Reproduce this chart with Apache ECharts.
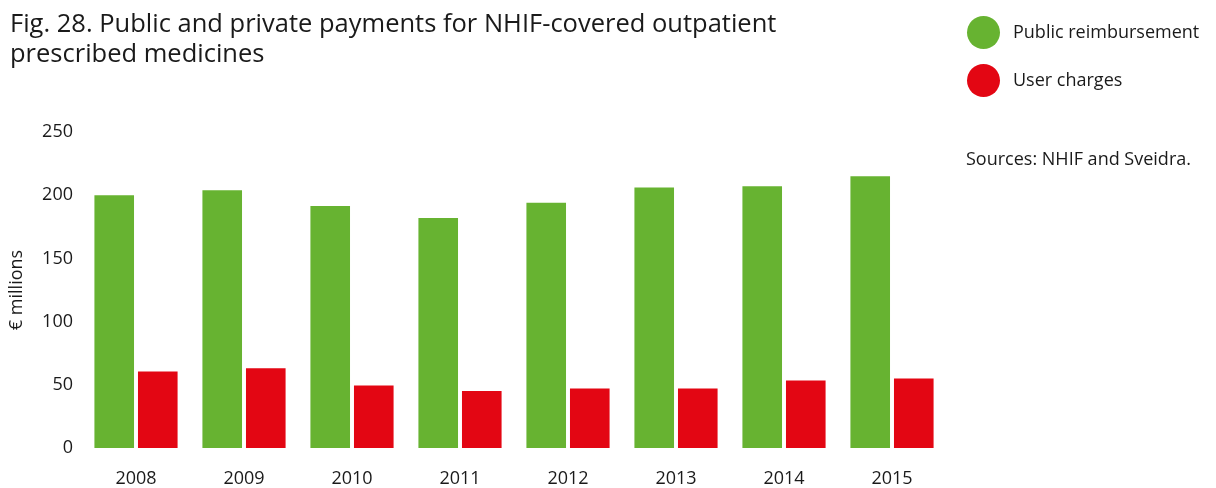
<!DOCTYPE html>
<html><head><meta charset="utf-8">
<script src="https://cdn.jsdelivr.net/npm/echarts@6/dist/echarts.min.js"></script>
<style>html,body{margin:0;padding:0;background:#fff}#c{width:1216px;height:488px}</style>
</head><body><div id="c"></div>
<script>
const categories = ['2008','2009','2010','2011','2012','2013','2014','2015'];
const publicReimbursement = [200, 204, 191.5, 182, 194, 206, 207, 215];
const userCharges = [60.5, 63, 49.5, 45, 47, 47, 53.5, 55];
const yTicks = [0, 50, 100, 150, 200, 250];
const FONT = '"Open Sans", "Noto Sans", sans-serif';
const chart = echarts.init(document.getElementById('c'));
chart.setOption({
  animation: false,
  textStyle: {fontFamily: FONT},
  title: {
    text: 'Fig. 28. Public and private payments for NHIF-covered outpatient\nprescribed medicines',
    left: 5, top: 5,
    textStyle: {fontFamily: FONT, fontSize: 25.5, fontWeight: 'normal', color: '#1a1a1a', lineHeight: 30}
  },
  legend: {
    orient: 'vertical', left: 962, top: 11, icon: 'circle',
    itemWidth: 33, itemHeight: 33, itemGap: 15,
    textStyle: {fontFamily: FONT, fontSize: 18, color: '#1a1a1a', padding: [0,0,0,8]},
    data: ['Public reimbursement', 'User charges']
  },
  graphic: [{
    type: 'text', left: 966, top: 151,
    style: {text: 'Sources: NHIF and Sveidra.', font: '18px ' + FONT, fill: '#1a1a1a'}
  }],
  grid: {left: 78, right: 270, top: 132, bottom: 40, containLabel: false},
  xAxis: {
    type: 'category', data: categories,
    axisLine: {show: false}, axisTick: {show: false},
    axisLabel: {fontFamily: FONT, fontSize: 18, color: '#1a1a1a', margin: 22}
  },
  yAxis: {
    type: 'value', min: yTicks[0], max: yTicks[yTicks.length-1], interval: 50,
    name: '€ millions', nameLocation: 'middle', nameGap: 56, nameRotate: 90,
    nameTextStyle: {fontFamily: FONT, fontSize: 18, color: '#1a1a1a'},
    axisLine: {show: false}, axisTick: {show: false}, splitLine: {show: false},
    axisLabel: {fontFamily: FONT, fontSize: 18, color: '#1a1a1a', margin: 9}
  },
  series: [
    {name: 'Public reimbursement', type: 'bar', data: publicReimbursement,
     itemStyle: {color: '#67b331'}, barGap: '10%', barCategoryGap: '23%'},
    {name: 'User charges', type: 'bar', data: userCharges,
     itemStyle: {color: '#e30613'}, barGap: '10%', barCategoryGap: '23%'}
  ]
});
</script></body></html>
